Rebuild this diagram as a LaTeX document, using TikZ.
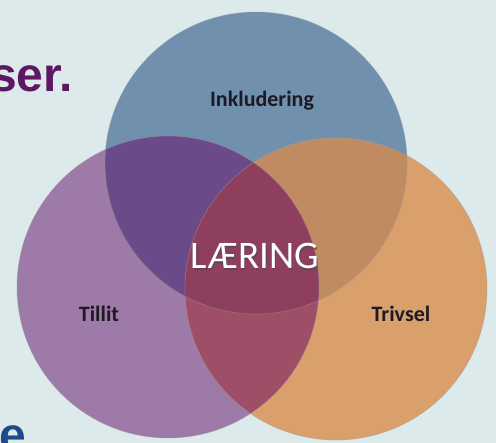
\documentclass[tikz,border=0pt]{standalone}
\usepackage{fontspec}
\setmainfont{Carlito}
\newfontfamily\headfont{Liberation Sans}
\definecolor{bgc}{HTML}{DDEAEB}
\definecolor{cblue}{HTML}{7190AD}
\definecolor{cpurple}{HTML}{9E7AA8}
\definecolor{corange}{HTML}{DAA06B}
\definecolor{ctl}{HTML}{6A4A88}
\definecolor{ctr}{HTML}{C08B62}
\definecolor{clr}{HTML}{9E4F67}
\definecolor{cmid}{HTML}{8E3F5D}
\definecolor{headpurple}{HTML}{5E1762}
\definecolor{headblue}{HTML}{1F4A8A}
\definecolor{labc}{HTML}{1C1A24}
\tikzset{
  lab/.style={font=\bfseries\fontsize{22}{24}\selectfont, text=labc, inner sep=0pt},
  head/.style={font=\headfont\bfseries\fontsize{48}{50}\selectfont, inner sep=0pt},
}
\begin{document}
\begin{tikzpicture}[x=1pt,y=-1pt]
\useasboundingbox (0,0) rectangle (496,443);
\fill[bgc] (0,0) rectangle (496,443);
\def\ctop{(256,163) circle[radius=151pt]}
\def\cleft{(168,287) circle[radius=151pt]}
\def\cright{(336,289) circle[radius=151pt]}
\fill[cblue] \ctop;
\fill[cpurple] \cleft;
\fill[corange] \cright;
\begin{scope}\clip \ctop; \fill[ctl] \cleft; \end{scope}
\begin{scope}\clip \ctop; \fill[ctr] \cright; \end{scope}
\begin{scope}\clip \cleft; \fill[clr] \cright; \end{scope}
\begin{scope}\clip \ctop; \clip \cleft; \fill[cmid] \cright; \end{scope}
\draw[black!40, opacity=0.4, line width=0.8pt] \ctop \cleft \cright;
\node[head, text=headpurple, anchor=base east] (ser) at (73,92) {ser.};
\node[head, text=headblue, anchor=base west] (e) at (-1,452) {e};
\node[lab] (inkl) at (262,101) {Inkludering};
\node[lab] (tillit) at (99,314) {Tillit};
\node[lab] (trivsel) at (401,314) {Trivsel};
\node[font=\fontsize{39}{40}\selectfont, text=black!70, inner sep=0pt, opacity=0.7] (lshadow) at (256.5,258) {LÆRING};
\node[font=\fontsize{39}{40}\selectfont, text=white, inner sep=0pt] (laering) at (255,256) {LÆRING};
\end{tikzpicture}
\end{document}
